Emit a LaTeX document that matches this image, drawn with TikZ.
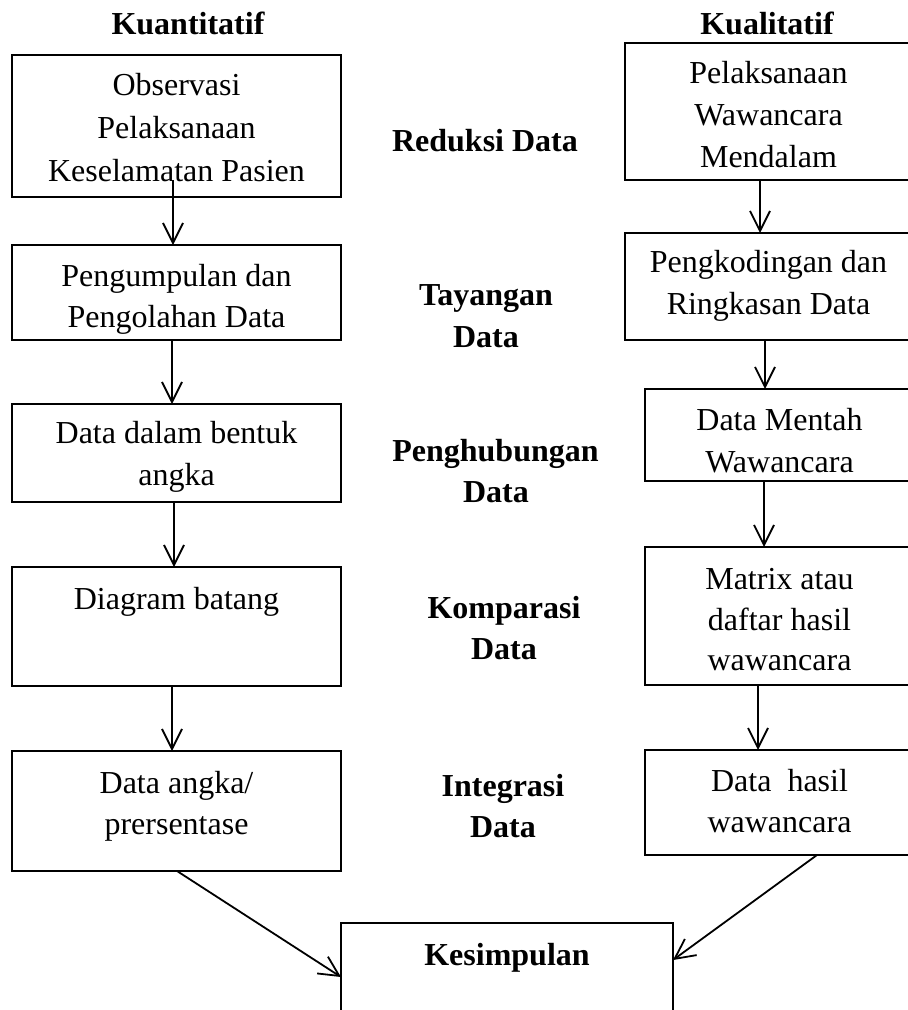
\documentclass[tikz,border=0pt]{standalone}
\usepackage{fontspec}
\setmainfont{Liberation Serif}
\usetikzlibrary{arrows.meta}
\begin{document}
\begin{tikzpicture}[x=1pt,y=-1pt,
  box/.style={draw, line width=1.8pt, rectangle, inner sep=0pt, outer sep=0pt},
  txt/.style={anchor=base, inner sep=0pt, font=\fontsize{32}{38}\selectfont},
  btxt/.style={anchor=base, inner sep=0pt, font=\fontsize{32}{38}\selectfont\bfseries},
  arr/.style={line width=1.8pt, -{Straight Barb[length=20pt,width=20pt,line width=1.8pt]}}]
\useasboundingbox (0,0) rectangle (908,1010);
\clip (0,0) rectangle (908,1010);
\fill[white] (0,0) rectangle (908,1010);
% headings
\node[btxt] (hq) at (188,34) {Kuantitatif};
\node[btxt] (hl) at (767,34) {Kualitatif};
% left boxes
\node[box, minimum width=329pt, minimum height=142pt] (L1) at (176.5,126) {};
\node[box, minimum width=329pt, minimum height=95pt]  (L2) at (176.5,292.5) {};
\node[box, minimum width=329pt, minimum height=98pt]  (L3) at (176.5,453) {};
\node[box, minimum width=329pt, minimum height=119pt] (L4) at (176.5,626.5) {};
\node[box, minimum width=329pt, minimum height=120pt] (L5) at (176.5,811) {};
% right boxes
\node[box, minimum width=287pt, minimum height=137pt] (R1) at (768.5,111.5) {};
\node[box, minimum width=287pt, minimum height=107pt] (R2) at (768.5,286.5) {};
\node[box, minimum width=269pt, minimum height=92pt]  (R3) at (779.5,435) {};
\node[box, minimum width=269pt, minimum height=138pt] (R4) at (779.5,616) {};
\node[box, minimum width=269pt, minimum height=105pt] (R5) at (779.5,802.5) {};
% conclusion box
\node[box, minimum width=332pt, minimum height=117pt] (K) at (507,981.5) {};
% left texts
\node[txt] (L1a) at (176.5,95) {Observasi};
\node[txt] (L1b) at (176.5,138) {Pelaksanaan};
\node[txt] (L1c) at (176.5,181) {Keselamatan Pasien};
\node[txt] (L2a) at (176.5,286) {Pengumpulan dan};
\node[txt] (L2b) at (176.5,327) {Pengolahan Data};
\node[txt] (L3a) at (176.5,443) {Data dalam bentuk};
\node[txt] (L3b) at (176.5,485) {angka};
\node[txt] (L4a) at (176.5,609) {Diagram batang};
\node[txt] (L5a) at (176.5,793) {Data angka/};
\node[txt] (L5b) at (176.5,834) {prersentase};
% right texts
\node[txt] (R1a) at (768.5,83) {Pelaksanaan};
\node[txt] (R1b) at (768.5,125) {Wawancara};
\node[txt] (R1c) at (768.5,167) {Mendalam};
\node[txt] (R2a) at (768.5,272) {Pengkodingan dan};
\node[txt] (R2b) at (768.5,314) {Ringkasan Data};
\node[txt] (R3a) at (779.5,430) {Data Mentah};
\node[txt] (R3b) at (779.5,472) {Wawancara};
\node[txt] (R4a) at (779.5,589) {Matrix atau};
\node[txt] (R4b) at (779.5,630) {daftar hasil};
\node[txt] (R4c) at (779.5,670) {wawancara};
\node[txt] (R5a) at (779.5,791) {Data\ \ hasil};
\node[txt] (R5b) at (779.5,832) {wawancara};
% middle labels
\node[btxt] (M1) at (485,151) {Reduksi Data};
\node[btxt] (M2a) at (486,305) {Tayangan};
\node[btxt] (M2b) at (486,347) {Data};
\node[btxt] (M3a) at (495.5,461) {Penghubungan};
\node[btxt] (M3b) at (496,502) {Data};
\node[btxt] (M4a) at (504,618) {Komparasi};
\node[btxt] (M4b) at (504,659) {Data};
\node[btxt] (M5a) at (503,796) {Integrasi};
\node[btxt] (M5b) at (503,837) {Data};
\node[btxt] (Kt) at (507,965) {Kesimpulan};
% left arrows
\draw[arr] ([xshift=-3.5pt,yshift=17pt]L1.south) -- ([xshift=-3.5pt]L2.north);
\draw[arr] ([xshift=-4.5pt]L2.south) -- ([xshift=-4.5pt]L3.north);
\draw[arr] ([xshift=-2.5pt]L3.south) -- ([xshift=-2.5pt]L4.north);
\draw[arr] ([xshift=-4.5pt]L4.south) -- ([xshift=-4.5pt]L5.north);
% right arrows
\draw[arr] ([xshift=-8.5pt]R1.south) -- ([xshift=-8.5pt]R2.north);
\draw[arr] ([xshift=-3.5pt]R2.south) -- ([xshift=-3.5pt]R2.south |- R3.north);
\draw[arr] ([xshift=-15.5pt]R3.south) -- ([xshift=-15.5pt]R4.north);
\draw[arr] ([xshift=-21.5pt]R4.south) -- ([xshift=-21.5pt]R5.north);
% to conclusion
\draw[arr] ([xshift=0.5pt]L5.south) -- ([yshift=4.5pt]K.west);
\draw[arr] ([xshift=37.5pt]R5.south) -- ([yshift=21.5pt]K.east);
\end{tikzpicture}
\end{document}
